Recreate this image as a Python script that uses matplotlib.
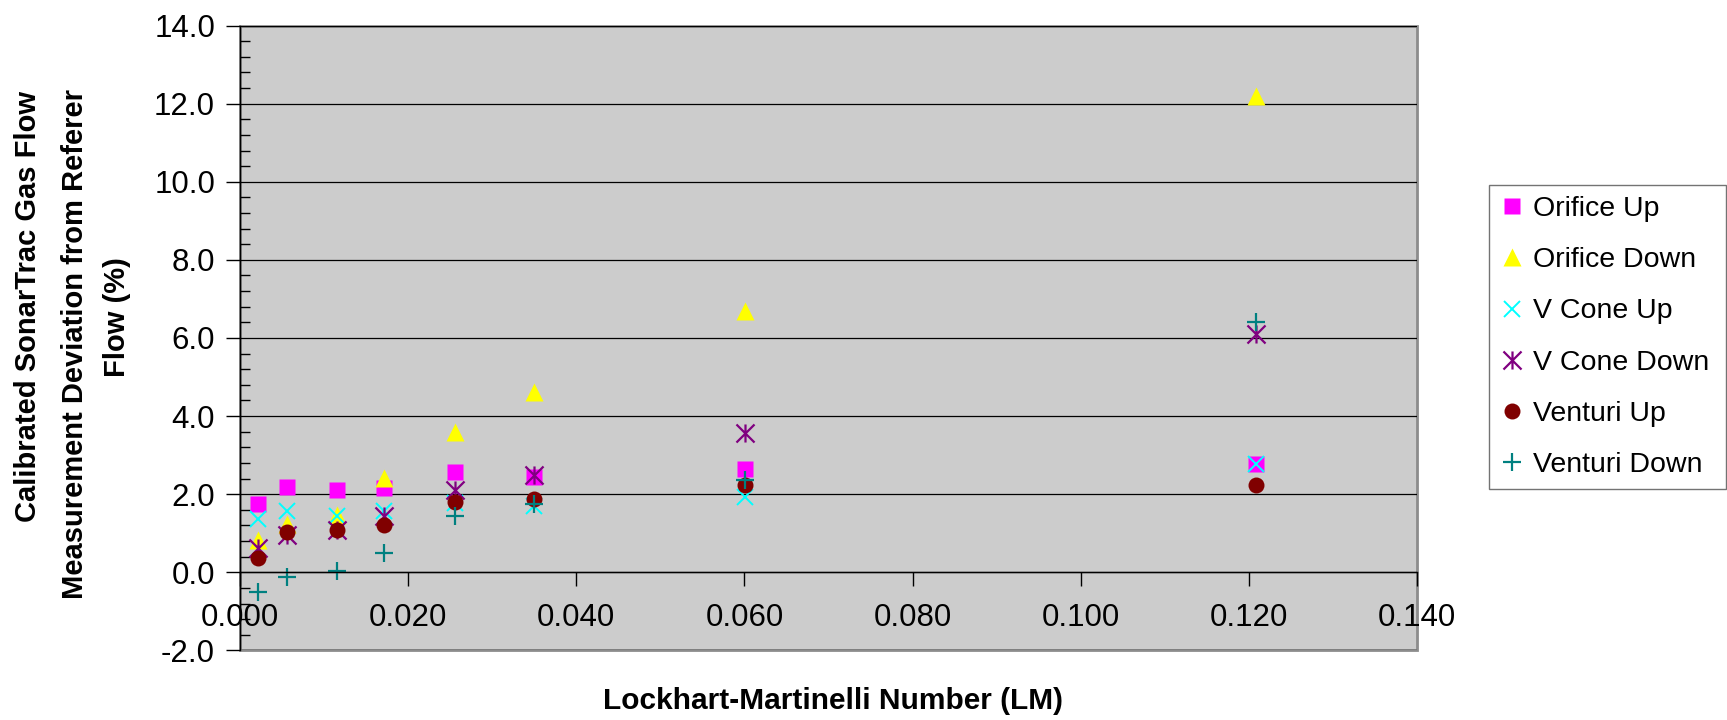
import matplotlib
matplotlib.use("Agg")
import matplotlib.pyplot as plt
from matplotlib.path import Path
from matplotlib.patches import Rectangle
from matplotlib.ticker import MultipleLocator, FormatStrFormatter

plt.rcParams["font.family"] = ["Liberation Sans", "DejaVu Sans"]

# Lockhart-Martinelli number for each test point
lm = [0.0021, 0.0056, 0.0115, 0.0171, 0.0256, 0.0350, 0.0601, 0.1209]

# deviation from reference flow (%) per reference meter / position
orifice_up = [1.74, 2.19, 2.11, 2.17, 2.58, 2.45, 2.64, 2.77]
orifice_down = [0.83, 1.24, 1.47, 2.41, 3.58, 4.61, 6.68, 12.2]
vcone_up = [1.36, 1.57, 1.43, 1.57, 1.78, 1.70, 1.94, 2.78]
vcone_down = [0.61, 0.96, 1.08, 1.43, 2.11, 2.49, 3.56, 6.09]
venturi_up = [0.36, 1.02, 1.08, 1.21, 1.81, 1.87, 2.24, 2.24]
venturi_down = [-0.51, -0.11, 0.02, 0.49, 1.43, 1.75, 2.36, 6.42]

labels = ["Orifice Up", "Orifice Down", "V Cone Up", "V Cone Down",
          "Venturi Up", "Venturi Down"]

# excel-style asterisk: an X with a vertical bar through it
star = Path([(-1, -1), (1, 1), (-1, 1), (1, -1), (0, -1), (0, 1)],
            [Path.MOVETO, Path.LINETO] * 3)

styles = [
    dict(marker="s", ms=11, mfc="#ff00ff", mec="none"),
    dict(marker="^", ms=13, mfc="#ffff00", mec="none"),
    dict(marker="x", ms=12, mec="#00ffff", mew=1.4),
    dict(marker=star, ms=13, mec="#800080", mfc="none", mew=1.6),
    dict(marker="o", ms=11.5, mfc="#800000", mec="none"),
    dict(marker="+", ms=13, mec="#008080", mew=1.6),
]
series = [orifice_up, orifice_down, vcone_up, vcone_down, venturi_up, venturi_down]

fig = plt.figure(figsize=(17.27, 7.2), dpi=100)
ax = fig.add_axes([0.1390, 0.0967, 0.6815, 0.8678])
ax.set_facecolor("#cccccc")

for vals, lab, st in zip(series, labels, styles):
    ax.plot(lm, vals, ls="none", label=lab, **st)

ax.set_xlim(0, 0.14)
ax.set_ylim(-2, 14)
ax.xaxis.set_major_locator(MultipleLocator(0.02))
ax.xaxis.set_major_formatter(FormatStrFormatter("%.3f"))
ax.yaxis.set_major_locator(MultipleLocator(2))
ax.yaxis.set_minor_locator(MultipleLocator(0.4))
ax.yaxis.set_major_formatter(FormatStrFormatter("%.1f"))

ax.yaxis.grid(True, color="black", lw=0.9)
ax.set_axisbelow(True)

ax.spines["bottom"].set_position(("data", 0))
ax.spines["top"].set_visible(False)
ax.spines["right"].set_visible(False)
for s in ("left", "bottom"):
    ax.spines[s].set_color("black")
    ax.spines[s].set_linewidth(1.0)
ax.add_patch(Rectangle((0, 0), 1, 1, transform=ax.transAxes, fill=False,
                       ec="#8c8c8c", lw=2.0, clip_on=False, zorder=0.5))

ax.tick_params(axis="y", which="major", direction="out", length=10, width=1,
               pad=8, labelsize=22.5)
ax.tick_params(axis="y", which="minor", direction="in", length=7, width=1)
ax.tick_params(axis="x", which="major", direction="out", length=10, width=1,
               pad=12, labelsize=22.5)

# axis titles
fig.text(833 / 1727, 1 - 701 / 720, "Lockhart-Martinelli Number (LM)",
         ha="center", va="center", fontsize=21.5, fontweight="bold")
ylab = [("Calibrated SonarTrac Gas Flow", 28, 306),
        ("Measurement Deviation from Referer", 75, 344),
        ("Flow (%)", 117, 317)]
for txt, px, py in ylab:
    fig.text(px / 1727, 1 - py / 720, txt, rotation=90, ha="center", va="center",
             fontsize=21, fontweight="bold")

leg = ax.legend(loc="upper left", bbox_to_anchor=(1489 / 1727, 1 - 185 / 720,
                                                  237 / 1727, 0),
                bbox_transform=fig.transFigure, mode="expand", borderaxespad=0,
                fontsize=20.5, frameon=True, fancybox=False, numpoints=1,
                handlelength=0.85, handletextpad=0.3, labelspacing=0.88,
                borderpad=0.4)
leg.get_frame().set_edgecolor("#505050")
leg.get_frame().set_linewidth(1.0)

fig.savefig("out.png", dpi=100)
